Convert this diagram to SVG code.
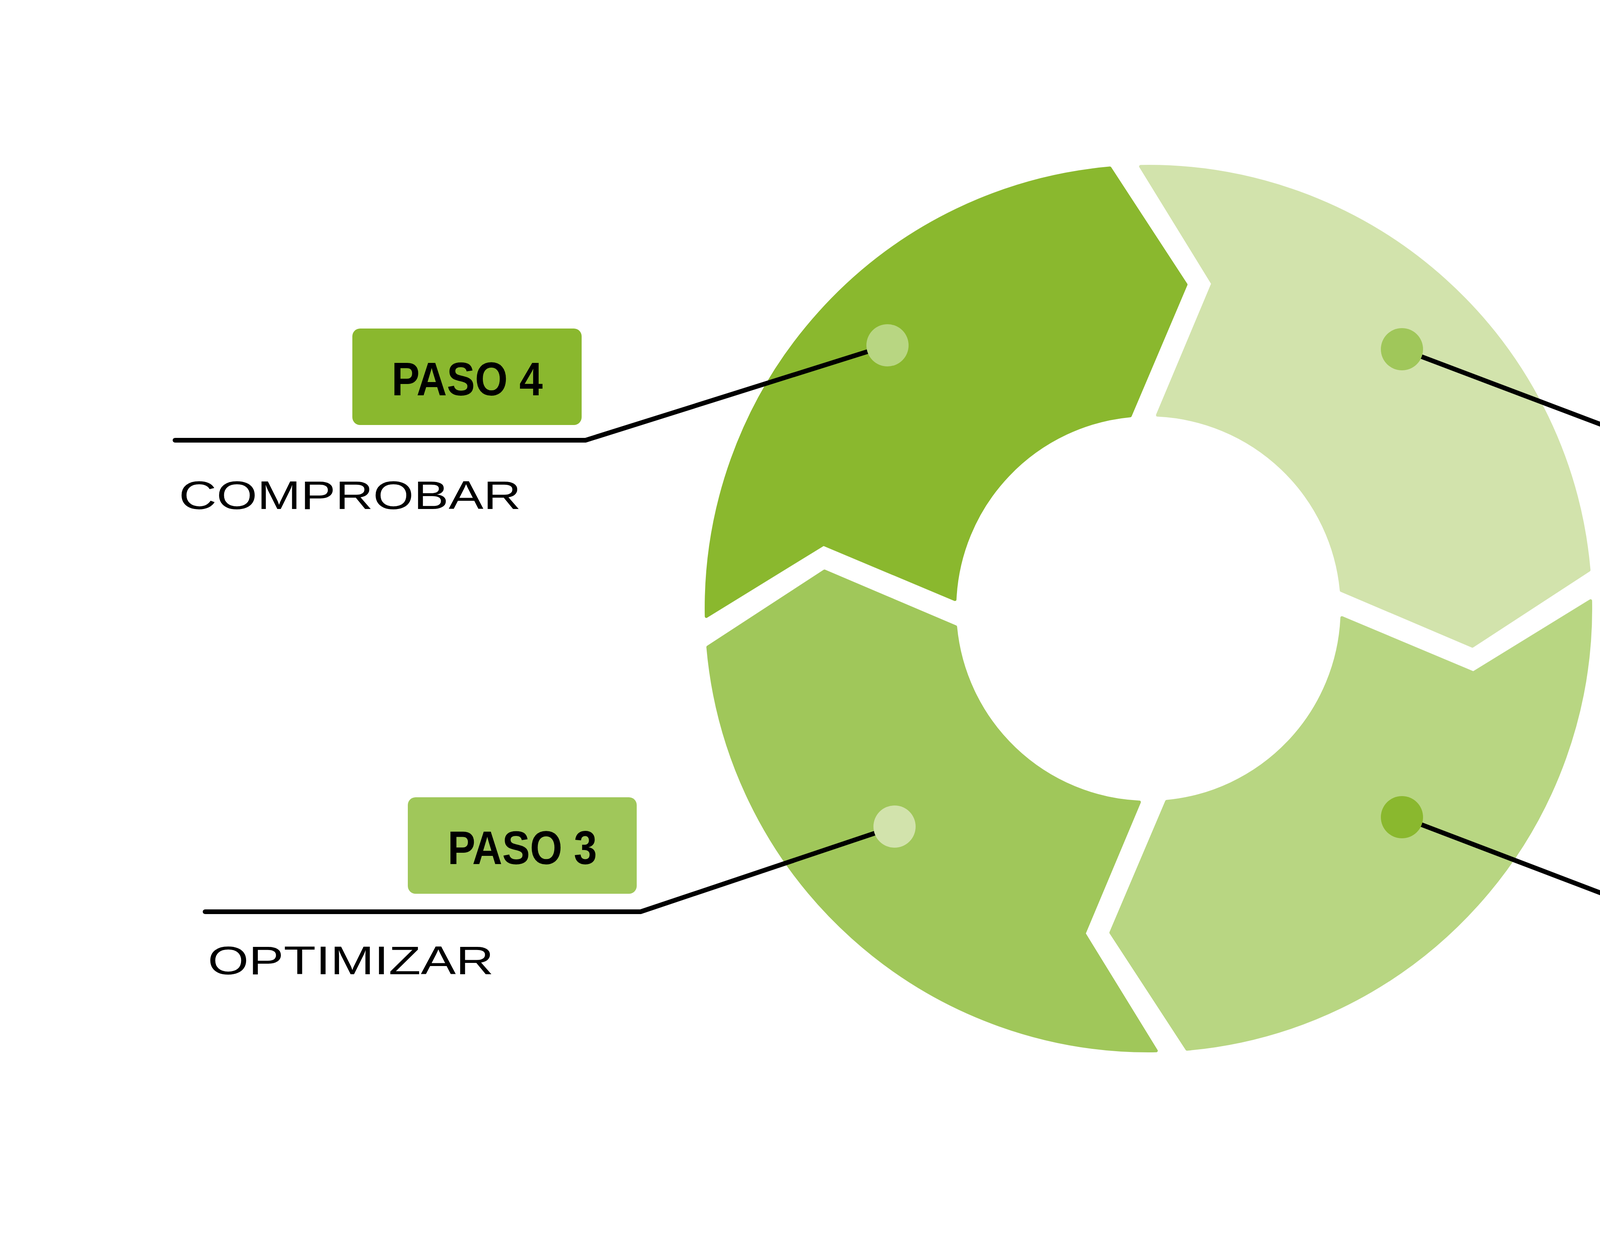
<svg xmlns="http://www.w3.org/2000/svg" width="5755" height="3159" viewBox="0 0 5755 3159">
  <style>
    .c1 { fill: #D2E3AC; stroke: #D2E3AC; }
    .c2 { fill: #B8D682; stroke: #B8D682; }
    .c3 { fill: #A0C75A; stroke: #A0C75A; }
    .c4 { fill: #8AB82E; stroke: #8AB82E; }
    .seg { stroke-linejoin: round; stroke-width: 8; }
    .dot, .box { stroke: none; }
    .conn { fill: none; stroke: #000000; stroke-width: 12; stroke-linecap: round; stroke-linejoin: miter; }
    .paso { font-family: "Liberation Sans", Arial, sans-serif; font-weight: 700; font-size: 121px; fill: #000000; text-anchor: middle; }
    .lbl { font-family: "Liberation Sans", Arial, sans-serif; font-weight: 400; font-size: 102px; fill: #000000; }
  </style>
  <defs>
    <path id="segment" d="M 2920.2 426.2 A 1132 1132 0 0 1 4067.7 1459.3 L 3769.5 1654 L 3433.8 1511.3 A 496 496 0 0 0 2963.4 1062.6 L 3104.7 726.1 Z"/>
  </defs>
  <rect x="0" y="0" width="5755" height="3159" fill="#FFFFFF"/>

  <g id="ring">
    <use href="#segment" class="seg c1"/>
    <use href="#segment" class="seg c2" transform="rotate(90 2940 1558)"/>
    <use href="#segment" class="seg c3" transform="rotate(180 2940 1558)"/>
    <use href="#segment" class="seg c4" transform="rotate(270 2940 1558)"/>
  </g>

  <g id="connectors">
    <polyline class="conn" points="2272,884 1499,1127 448,1127"/>
    <polyline class="conn" points="3589,894 4205,1127 5262,1127"/>
    <polyline class="conn" points="3589,2092 4195,2323 5242,2323"/>
    <polyline class="conn" points="2290,2116 1640,2334 525,2334"/>
  </g>

  <g id="paso4">
    <circle cx="2272" cy="884" r="54" class="dot c2"/>
    <rect x="902" y="841" width="587" height="247" rx="20" ry="20" class="box c4"/>
    <text class="paso" x="1196" y="1012" textLength="387" lengthAdjust="spacingAndGlyphs">PASO 4</text>
    <text class="lbl" x="458" y="1303" textLength="876" lengthAdjust="spacingAndGlyphs">COMPROBAR</text>
  </g>

  <g id="paso1">
    <circle cx="3589" cy="894" r="54" class="dot c3"/>
    <rect x="4219" y="846" width="587" height="246" rx="20" ry="20" class="box c1"/>
    <text class="paso" x="4512" y="1016" textLength="352" lengthAdjust="spacingAndGlyphs">PASO 1</text>
    <text class="lbl" x="4831" y="1285" textLength="424" lengthAdjust="spacingAndGlyphs">MEDIR</text>
  </g>

  <g id="paso2">
    <circle cx="3589" cy="2092" r="54" class="dot c4"/>
    <rect x="4215" y="2050" width="587" height="246" rx="20" ry="20" class="box c2"/>
    <text class="paso" x="4510" y="2220" textLength="382" lengthAdjust="spacingAndGlyphs">PASO 2</text>
    <text class="lbl" x="4582" y="2489" textLength="674" lengthAdjust="spacingAndGlyphs">ANALIZAR</text>
  </g>

  <g id="paso3">
    <circle cx="2290" cy="2116" r="54" class="dot c1"/>
    <rect x="1044" y="2041" width="586" height="247" rx="20" ry="20" class="box c3"/>
    <text class="paso" x="1337" y="2212" textLength="382" lengthAdjust="spacingAndGlyphs">PASO 3</text>
    <text class="lbl" x="532" y="2494" textLength="732" lengthAdjust="spacingAndGlyphs">OPTIMIZAR</text>
  </g>
</svg>
